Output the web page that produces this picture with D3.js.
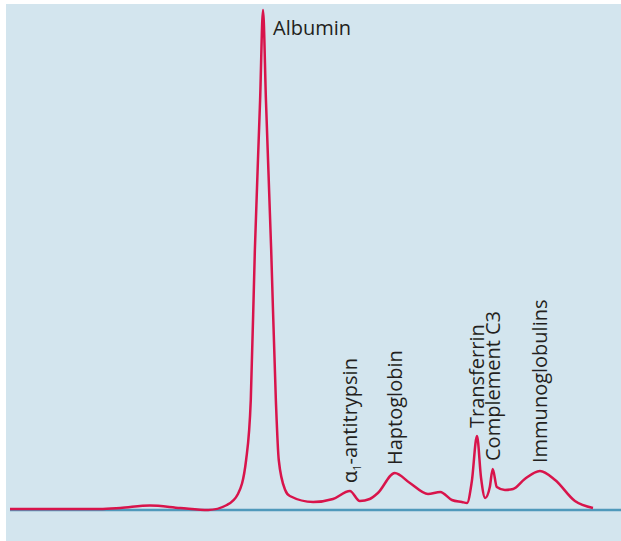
<!DOCTYPE html>
<html>
<head>
<meta charset="utf-8">
<script src="https://cdn.jsdelivr.net/npm/d3@7"></script>
<style>
  html, body { margin: 0; padding: 0; background: #fff; }
  svg { display: block; }
  .lbl { font-family: "Open Sans", sans-serif; font-size: 20px; fill: #231f20; }
</style>
</head>
<body>
<div id="chart"></div>
<script>
// serum protein electrophoresis trace, mobility (0-100) vs. density (0-100)
var mobility = [0, 15.4, 18.9, 24.0, 29.2, 34.0, 37.2, 39.1, 40.5, 41.3, 42.0, 42.9,
    43.4, 43.9, 44.8, 45.6, 46.1, 47.2, 48.0, 52.0, 55.4, 58.3, 60.0, 61.7, 63.1,
    66.0, 68.6, 71.7, 73.8, 75.8, 77.5, 78.4, 79.2, 80.1, 80.8, 81.5, 82.3, 82.8,
    83.5, 84.9, 86.3, 88.3, 90.9, 93.5, 96.9, 100];
var density = [0.2, 0.2, 0.4, 0.9, 0.4, 0, 1.0, 3.2, 10, 22, 52, 82,
    100, 82, 52, 22, 10, 4, 2.8, 1.6, 2.2, 3.8, 1.8, 2.2, 3.4,
    7.4, 5.4, 3.2, 3.6, 2.0, 1.6, 1.4, 5.6, 14.8, 6.4, 2.4, 4.6, 8.2,
    4.6, 4.0, 4.2, 6.2, 7.8, 6.0, 1.8, 0.4];

// protein fractions and the mobility of their peaks
var fractions = ["Albumin", "α1-antitrypsin", "Haptoglobin", "Transferrin", "Complement C3", "Immunoglobulins"];
var peakAt = [43.4, 58.3, 66.0, 80.1, 82.8, 90.9];

var width = 621;
var height = 541;

var svg = d3.select("#chart").append("svg")
    .attr("width", width)
    .attr("height", height);

// panel
svg.append("rect")
    .attr("x", 6)
    .attr("y", 4)
    .attr("width", width - 6)
    .attr("height", height - 4)
    .style("fill", "#d3e5ee");

var x = d3.scaleLinear().domain([0, 100]).range([10, 593]);
var y = d3.scaleLinear().domain([0, 100]).range([510, 10]);

// baseline
svg.append("line")
    .attr("x1", x(0))
    .attr("x2", width)
    .attr("y1", y(0))
    .attr("y2", y(0))
    .style("stroke", "#4f99bb")
    .style("stroke-width", 2.5);

var points = mobility.map(function(m, i) { return [m, density[i]]; });

var line = d3.line()
    .x(function(d) { return x(d[0]); })
    .y(function(d) { return y(d[1]); })
    .curve(d3.curveMonotoneX);

svg.append("path")
    .datum(points)
    .attr("d", line)
    .style("fill", "none")
    .style("stroke", "#d8144b")
    .style("stroke-width", 2.5)
    .style("stroke-linejoin", "round");

function peakValue(m) {
    var i = mobility.indexOf(m);
    return density[i];
}

// labels
fractions.forEach(function(name, i) {
    var px = x(peakAt[i]);
    var py = y(peakValue(peakAt[i]));

    if (i === 0) {
        svg.append("text")
            .attr("class", "lbl")
            .attr("x", px + 10)
            .attr("y", py + 25)
            .text(name);
        return;
    }

    var t = svg.append("text")
        .attr("class", "lbl")
        .attr("transform", "translate(" + (px + 7) + "," + (py - 8) + ") rotate(-90)");

    if (name.charAt(0) === "α") {
        t.append("tspan").text("α");
        t.append("tspan")
            .attr("font-size", "11px")
            .attr("dy", 4)
            .text("1");
        t.append("tspan")
            .attr("dy", -4)
            .text(name.slice(2));
    } else {
        t.text(name);
    }
});
</script>
</body>
</html>
